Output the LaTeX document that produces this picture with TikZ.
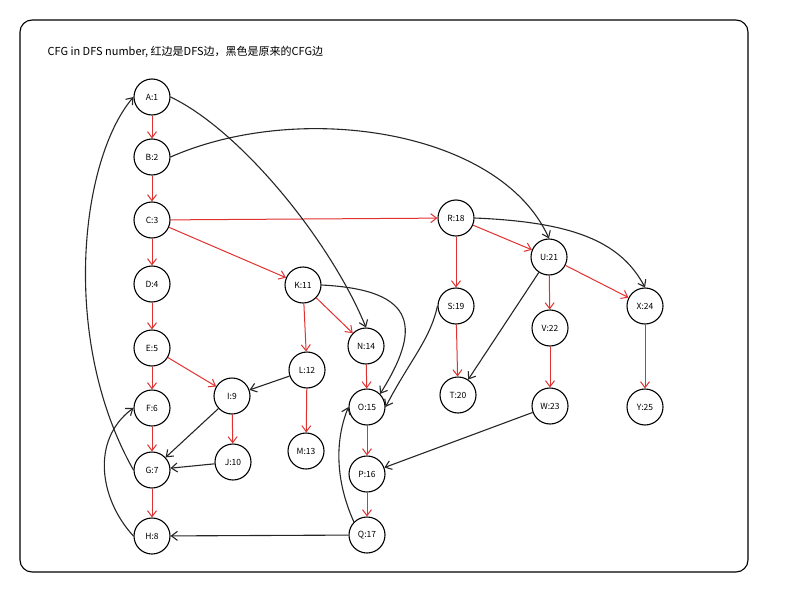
\documentclass[tikz,border=0pt]{standalone}
\usepackage{fontspec}
\newfontfamily\cjk{Noto Sans CJK SC}
\usetikzlibrary{arrows.meta}
\definecolor{redE}{HTML}{E03131}
\tikzset{
 nd/.style={circle,draw,line width=1.1pt,minimum size=36pt,inner sep=0pt,font=\cjk\fontsize{8.5}{9}\selectfont},
 tree/.style={draw=redE,line width=1pt,-{Straight Barb[length=6pt,width=9pt]}},
 back/.style={draw=black!85,line width=1.1pt,-{Straight Barb[length=6pt,width=9pt]}},
}
\begin{document}
\begin{tikzpicture}[x=1pt,y=-1pt]
\useasboundingbox (0,0) rectangle (787,594);
\draw[line width=1.1pt,rounded corners=12pt] (20,20) rectangle (748,572);
\node[anchor=west,font=\cjk\fontsize{11}{13}\selectfont] (title) at (44,52) {CFG in DFS number, 红边是DFS边，黑色是原来的CFG边};
\node[nd] (A) at (152,97) {A:1};
\node[nd] (B) at (152,157) {B:2};
\node[nd] (C) at (152,220) {C:3};
\node[nd] (D) at (152,284) {D:4};
\node[nd] (E) at (152,348) {E:5};
\node[nd] (F) at (152,408) {F:6};
\node[nd] (G) at (152,470) {G:7};
\node[nd] (H) at (152,536) {H:8};
\node[nd] (I) at (232,396) {I:9};
\node[nd] (J) at (233,462) {J:10};
\node[nd] (K) at (303,285) {K:11};
\node[nd] (L) at (307,370) {L:12};
\node[nd] (M) at (306,451) {M:13};
\node[nd] (N) at (366,346) {N:14};
\node[nd] (O) at (367,407) {O:15};
\node[nd] (P) at (367,474) {P:16};
\node[nd] (Q) at (367,535) {Q:17};
\node[nd] (R) at (456,218) {R:18};
\node[nd] (S) at (456,306) {S:19};
\node[nd] (T) at (458,395) {T:20};
\node[nd] (U) at (549,257) {U:21};
\node[nd] (V) at (550,328) {V:22};
\node[nd] (W) at (550,406) {W:23};
\node[nd] (X) at (645,306) {X:24};
\node[nd] (Y) at (645,407) {Y:25};
% tree edges
\foreach \a/\b in {A/B,B/C,C/D,D/E,E/F,F/G,G/H,E/I,I/J,C/R,C/K,K/L,L/M,K/N,N/O,O/P,P/Q,R/S,S/T,R/U,U/V,V/W,U/X,X/Y}
  \draw[tree] (\a) -- (\b);
% other edges
\draw[back] (A.east) .. controls (240,130) and (330,240) .. (N.north);
\draw[back] (B.east) .. controls (300,100) and (500,130) .. (U.north);
\draw[back] (G.west) .. controls (60,340) and (80,160) .. (A.west);
\draw[back] (H.west) .. controls (100,500) and (90,440) .. (F.west);
\draw[back] (I) -- (G);
\draw[back] (J) -- (G);
\draw[back] (L) -- (I);
\draw[back] (Q) -- (H);
\draw[back] (Q.north west) .. controls (335,480) and (335,440) .. (O.west);
\draw[back] (K.east) .. controls (420,290) and (420,330) .. (O.north east);
\draw[back] (S.west) .. controls (430,340) and (410,360) .. (O.east);
\draw[back] (U) -- (T);
\draw[back] (W) -- (P);
\draw[back] (R.east) .. controls (570,222) and (620,240) .. (X.north);
\end{tikzpicture}
\end{document}
